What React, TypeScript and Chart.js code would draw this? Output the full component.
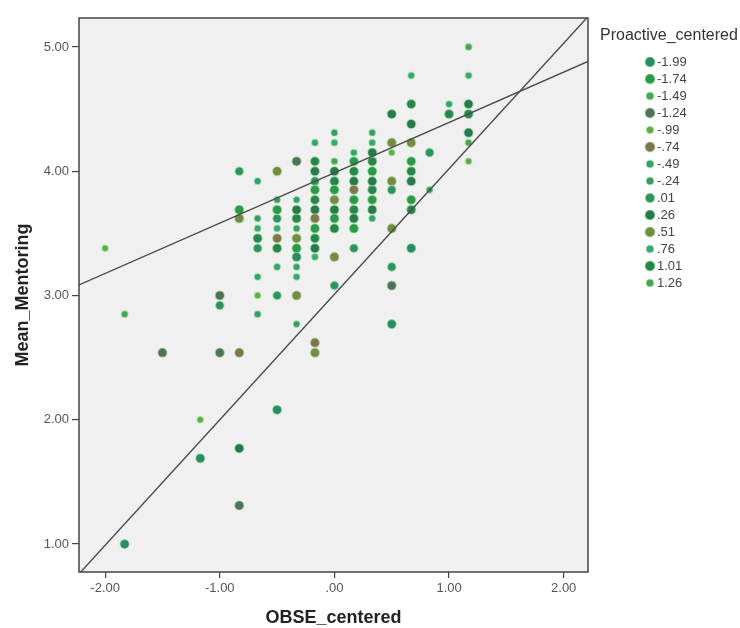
import React, { useEffect, useRef } from "react";
import { Chart, registerables } from "chart.js";

Chart.register(...registerables);

// OBSE_centered levels (x columns)
const obseLevels = [
  -2.0, -1.83, -1.5, -1.17, -1.0, -0.83, -0.67, -0.5, -0.33, -0.17, 0.0, 0.17, 0.33, 0.5, 0.67, 0.83, 1.0, 1.17,
];

// Mean_Mentoring values in each OBSE column
const mentoringByObse: number[][] = [
  [3.38],
  [2.85, 1.0],
  [2.54],
  [2.0, 1.69],
  [3.0, 2.92, 2.54],
  [4.0, 3.69, 3.62, 2.54, 1.77, 1.31],
  [3.92, 3.62, 3.54, 3.46, 3.38, 3.15, 3.0, 2.85],
  [4.0, 3.77, 3.69, 3.62, 3.54, 3.46, 3.38, 3.23, 3.0, 2.08],
  [4.08, 3.77, 3.69, 3.62, 3.54, 3.46, 3.38, 3.31, 3.23, 3.15, 3.0, 2.77],
  [4.23, 4.08, 4.0, 3.92, 3.85, 3.77, 3.69, 3.62, 3.54, 3.46, 3.38, 3.31, 2.62, 2.54],
  [4.31, 4.23, 4.08, 4.0, 3.92, 3.85, 3.77, 3.69, 3.62, 3.54, 3.31, 3.08],
  [4.15, 4.08, 4.0, 3.92, 3.85, 3.77, 3.69, 3.62, 3.54, 3.38],
  [4.31, 4.23, 4.15, 4.08, 4.0, 3.92, 3.85, 3.77, 3.69, 3.62],
  [4.46, 4.23, 4.15, 3.92, 3.85, 3.54, 3.23, 3.08, 2.77],
  [4.77, 4.54, 4.38, 4.23, 4.08, 4.0, 3.92, 3.77, 3.69, 3.38],
  [4.15, 3.85],
  [4.54, 4.46],
  [5.0, 4.77, 4.54, 4.46, 4.31, 4.23, 4.08],
];

// Proactive_centered value of each point above
const proactiveByObse: number[][] = [
  [-0.99],
  [1.26, -1.99],
  [-1.24],
  [-0.99, -1.99],
  [-1.24, 0.01, -1.24],
  [0.01, -1.74, 0.51, -0.74, 0.26, -1.24],
  [-0.49, -0.24, 0.76, 1.01, 0.01, -0.49, -0.99, -0.24],
  [0.51, -0.24, -1.74, 0.01, 0.76, -0.74, 1.01, -0.49, 0.01, -1.99],
  [-1.24, -0.49, 0.26, 1.01, -0.24, 0.51, -1.74, -1.99, -0.49, 0.76, 0.51, -0.24],
  [-0.49, 1.01, 0.26, 0.01, -1.74, 1.01, 0.26, -0.74, -1.74, 1.01, 0.26, 0.76, -0.74, 0.51],
  [-0.24, 0.76, 1.26, 0.26, 1.01, -1.74, 0.51, 0.26, -1.74, 1.01, 0.51, 0.01],
  [-0.49, -1.74, 1.01, 0.26, -0.74, -1.74, 1.01, 0.26, -1.74, 0.01],
  [-0.24, 0.76, 0.26, 1.01, -1.74, 0.26, 1.01, -1.74, 0.26, -0.49],
  [0.26, 0.51, -0.99, 0.51, 0.01, 0.51, 0.01, -1.24, -1.99],
  [0.76, 1.01, 0.26, 0.51, -1.74, 1.01, 0.26, -1.74, 1.01, -1.99],
  [0.01, -0.24],
  [-0.49, 1.01],
  [1.26, 0.76, 0.26, 1.01, 0.26, 1.26, -0.99],
];

// Legend categories
const proactiveLevels = [-1.99, -1.74, -1.49, -1.24, -0.99, -0.74, -0.49, -0.24, 0.01, 0.26, 0.51, 0.76, 1.01, 1.26];
const proactiveColors = [
  "#2b8a68", "#2c984a", "#47a658", "#53705a", "#62ab42", "#83744e", "#35a072",
  "#3a9a66", "#2d9262", "#29794e", "#788a40", "#38a678", "#28864c", "#48a455",
];
const proactiveRadii = [4.6, 4.6, 3.4, 4.6, 3.2, 4.6, 3.4, 3.4, 4.3, 4.6, 4.6, 3.4, 4.6, 3.4];

const xTicks = [-2, -1, 0, 1, 2];
const yTicks = [1, 2, 3, 4, 5];
const xRange = [-2.228, 2.212];
const yRange = [0.775, 5.233];

// Fit lines: intercept, slope
const fitIntercepts = [3.987, 3.01];
const fitSlopes = [0.405, 1.01];

const FONT = '"Liberation Sans", Arial, Helvetica, sans-serif';

function fmt(v: number): string {
  let s = Math.abs(v).toFixed(2);
  if (s.startsWith("0.")) s = s.slice(1);
  return (v < 0 ? "-" : "") + s;
}

const framePlugin = {
  id: "spssFrame",
  beforeDatasetsDraw(chart: any) {
    const { ctx, chartArea: a } = chart;
    ctx.save();
    ctx.fillStyle = "#f0f0f0";
    ctx.fillRect(a.left, a.top, a.right - a.left, a.bottom - a.top);
    ctx.restore();
  },
  afterDatasetsDraw(chart: any) {
    const { ctx, chartArea: a } = chart;
    ctx.save();
    ctx.strokeStyle = "#444";
    ctx.lineWidth = 1.5;
    ctx.strokeRect(a.left, a.top, a.right - a.left, a.bottom - a.top);
    ctx.restore();
  },
};

const legendPlugin = {
  id: "spssLegend",
  afterDraw(chart: any) {
    const { ctx, chartArea: a } = chart;
    const x0 = a.right + 12;
    ctx.save();
    ctx.textAlign = "left";
    ctx.textBaseline = "middle";
    ctx.fillStyle = "#333";
    ctx.font = `16px ${FONT}`;
    ctx.fillText("Proactive_centered", x0, 36);
    ctx.font = `13px ${FONT}`;
    proactiveLevels.forEach((lv, i) => {
      const y = 62 + 17 * i;
      const cx = x0 + 50;
      ctx.beginPath();
      ctx.arc(cx, y, proactiveRadii[i] + 0.4, 0, Math.PI * 2);
      ctx.fillStyle = proactiveColors[i];
      ctx.fill();
      ctx.lineWidth = 1.2;
      ctx.strokeStyle = "rgba(160,225,160,0.6)";
      ctx.stroke();
      ctx.fillStyle = "#444";
      ctx.fillText(fmt(lv), cx + 7, y + 0.5);
    });
    ctx.restore();
  },
};

export default function App() {
  const ref = useRef<HTMLCanvasElement>(null);

  useEffect(() => {
    if (!ref.current) return;
    const datasets: any[] = [];

    fitIntercepts.forEach((b0, i) => {
      const b1 = fitSlopes[i];
      datasets.push({
        type: "line",
        label: "fit" + i,
        data: [
          { x: xRange[0], y: b0 + b1 * xRange[0] },
          { x: xRange[1], y: b0 + b1 * xRange[1] },
        ],
        borderColor: "#4a4a4a",
        borderWidth: 1.4,
        pointRadius: 0,
        fill: false,
        order: -1,
      });
    });

    proactiveLevels.forEach((lv, ci) => {
      const pts: { x: number; y: number }[] = [];
      obseLevels.forEach((x, k) => {
        mentoringByObse[k].forEach((y, j) => {
          if (proactiveByObse[k][j] === lv) pts.push({ x, y });
        });
      });
      datasets.push({
        type: "scatter",
        label: fmt(lv),
        data: pts,
        backgroundColor: proactiveColors[ci],
        borderColor: "rgba(170,230,170,0.55)",
        borderWidth: 1.4,
        pointRadius: proactiveRadii[ci],
        pointHoverRadius: proactiveRadii[ci],
      });
    });

    const tickFont = { family: FONT, size: 13 };
    const titleFont = { family: FONT, size: 18, weight: "bold" as const };

    const chart = new Chart(ref.current, {
      type: "scatter",
      data: { datasets },
      options: {
        responsive: false,
        animation: false,
        devicePixelRatio: 1,
        layout: { padding: { top: 18, right: 152, left: 0, bottom: 0 } },
        plugins: { legend: { display: false }, tooltip: { enabled: false } },
        scales: {
          x: {
            type: "linear",
            min: xRange[0],
            max: xRange[1],
            afterBuildTicks: (s: any) => {
              s.ticks = xTicks.map((v) => ({ value: v }));
            },
            afterFit: (s: any) => {
              s.height = 56;
            },
            ticks: {
              callback: (v: any) => fmt(Number(v)),
              font: tickFont,
              color: "#555",
              padding: 3,
              maxRotation: 0,
            },
            grid: { drawOnChartArea: false, drawTicks: true, tickLength: 6, color: "#444", lineWidth: 1.2 },
            border: { display: false },
            title: { display: true, text: "OBSE_centered", font: titleFont, color: "#222", padding: { top: 0, bottom: -1 } },
          },
          y: {
            type: "linear",
            min: yRange[0],
            max: yRange[1],
            afterBuildTicks: (s: any) => {
              s.ticks = yTicks.map((v) => ({ value: v }));
            },
            afterFit: (s: any) => {
              s.width = 79;
            },
            ticks: {
              callback: (v: any) => fmt(Number(v)),
              font: tickFont,
              color: "#555",
              padding: 3,
            },
            grid: { drawOnChartArea: false, drawTicks: true, tickLength: 7, color: "#444", lineWidth: 1.2 },
            border: { display: false },
            title: { display: true, text: "Mean_Mentoring", font: titleFont, color: "#222", padding: { top: 12, bottom: 0 } },
          },
        },
      },
      plugins: [framePlugin, legendPlugin],
    } as any);

    return () => chart.destroy();
  }, []);

  return (
    <div style={{ position: "absolute", left: 0, top: 0, width: 740, height: 628, background: "#fff" }}>
      <canvas ref={ref} width={740} height={628} style={{ display: "block", width: 740, height: 628 }} />
    </div>
  );
}
